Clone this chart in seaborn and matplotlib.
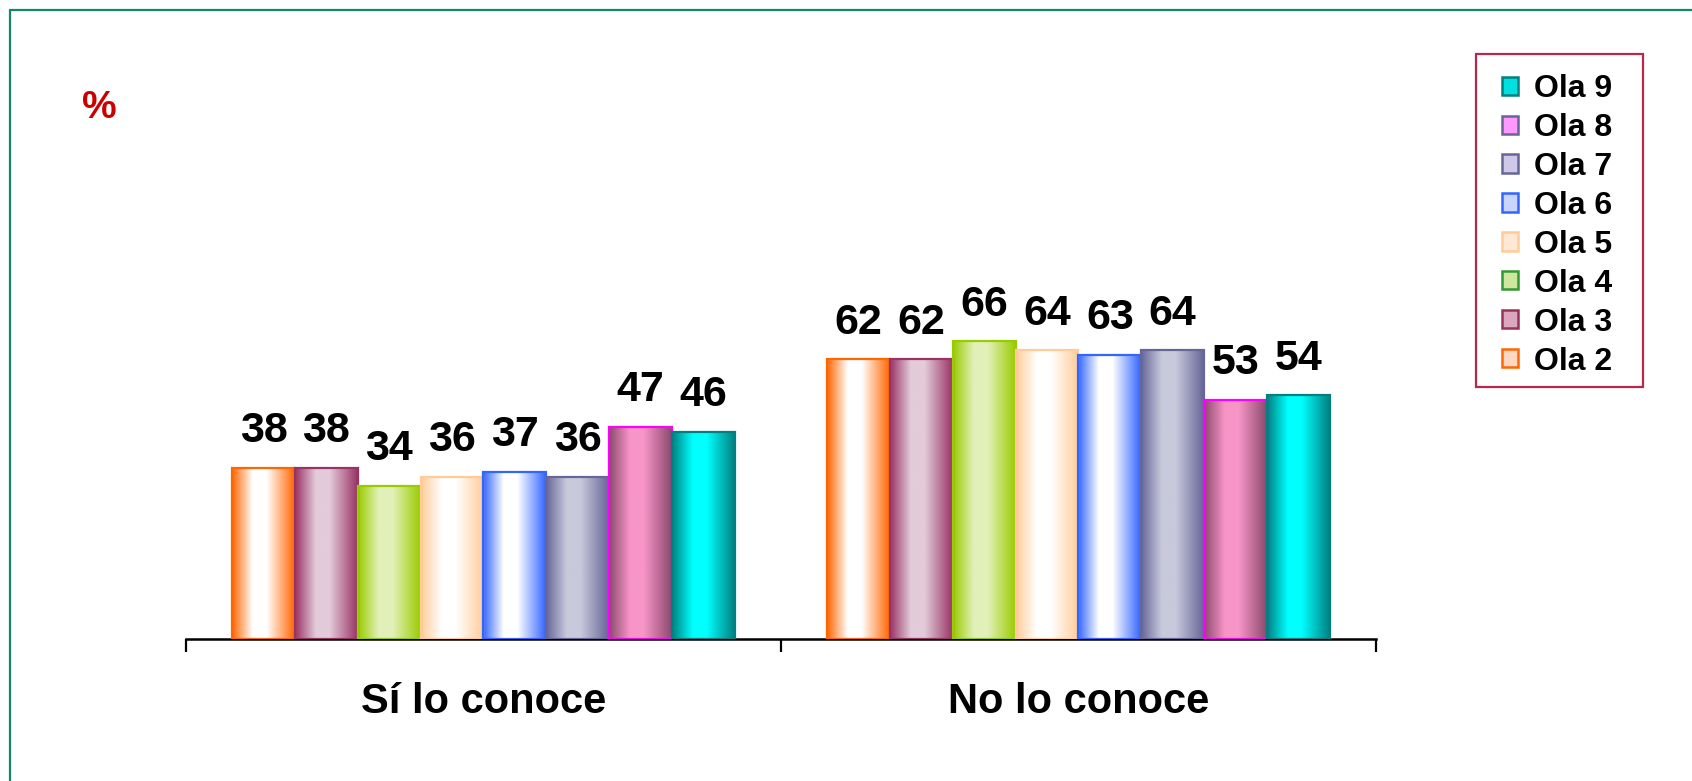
import numpy as np
import pandas as pd
import matplotlib
matplotlib.use("Agg")
import matplotlib.pyplot as plt
import matplotlib.colors as mcolors
from matplotlib.patches import Patch, Rectangle
from matplotlib.lines import Line2D
import seaborn as sns

# Data
categories = ["Sí lo conoce", "No lo conoce"]
olas = ["Ola 2", "Ola 3", "Ola 4", "Ola 5", "Ola 6", "Ola 7", "Ola 8", "Ola 9"]
si_values = [38, 38, 34, 36, 37, 36, 47, 46]
no_values = [62, 62, 66, 64, 63, 64, 53, 54]

# Bar look: side colour, centre colour, outline
bar_side = ["#ff6600", "#993366", "#99cc00", "#ffcc99", "#3366ff", "#666699", "#8a4a6c", "#008080"]
bar_center = ["#ffffff", "#e3cbd9", "#e2f0b9", "#ffffff", "#ffffff", "#c9c9dc", "#f895c8", "#00ffff"]
bar_edge = ["#ff6600", "#993366", "#99cc00", "#ffcc99", "#3366ff", "#666699", "#ff00ff", "#008080"]
leg_face = ["#ffd8c4", "#d9a8c0", "#cfe6a0", "#ffe9d4", "#c8d6ff", "#cfc8e8", "#ff99ff", "#00e0e0"]
leg_edge = ["#ff6600", "#993355", "#339933", "#ffcc99", "#3366ff", "#666699", "#666699", "#008080"]

df = pd.DataFrame({
    "respuesta": [categories[0]] * len(olas) + [categories[1]] * len(olas),
    "ola": olas + olas,
    "pct": si_values + no_values,
})

sns.set_style("white")
plt.rcParams["font.family"] = ["Liberation Sans", "DejaVu Sans"]
plt.rcParams["font.weight"] = "bold"
plt.rcParams["text.color"] = "black"
plt.rcParams["xtick.color"] = "black"

W, H = 1692, 781
fig = plt.figure(figsize=(W / 100, H / 100), dpi=100)
ax = fig.add_axes([0.1099, 0.1818, 0.7033, 0.5775])

sns.barplot(data=df, x="respuesta", y="pct", hue="ola", order=categories,
            hue_order=olas, width=0.845, saturation=1, legend=False, ax=ax)

# cylinder-like horizontal gradient on every bar
xs = np.linspace(0, 1, 200)
weight = np.interp(xs, [0, 0.33, 0.55, 1.0], [1, 0, 0, 1])
for i, cont in enumerate(ax.containers):
    side = np.array(mcolors.to_rgb(bar_side[i]))
    mid = np.array(mcolors.to_rgb(bar_center[i]))
    grad = (weight[:, None] * side + (1 - weight[:, None]) * mid)[None, :, :]
    for p in cont.patches:
        x0, y0 = p.get_x(), p.get_y()
        w, h = p.get_width(), p.get_height()
        im = ax.imshow(grad, extent=[x0, x0 + w, y0, y0 + h], aspect="auto",
                       zorder=2, interpolation="bilinear")
        im.set_clip_path(p)
        p.set_facecolor("none")
        p.set_edgecolor(bar_edge[i])
        p.set_linewidth(1.6)
        p.set_zorder(3)
    ax.bar_label(cont, padding=12, fontsize=31, fontweight="bold", color="black")

ax.set_xlim(-0.5, 1.5)
ax.set_ylim(0, 100)
ax.set_xlabel("")
ax.set_ylabel("")
ax.set_yticks([])
for s in ["top", "left", "right"]:
    ax.spines[s].set_visible(False)
ax.spines["bottom"].set_color("black")
ax.spines["bottom"].set_linewidth(1.8)
ax.tick_params(axis="x", which="major", bottom=False, length=0, pad=31,
               labelsize=30, labelcolor="black")
for lbl in ax.get_xticklabels():
    lbl.set_fontweight("bold")
ax.set_xticks([-0.5, 0.5, 1.5], minor=True)
ax.tick_params(axis="x", which="minor", bottom=True, length=9, width=1.6,
               color="black", direction="out")

# legend (reversed order, Ola 9 on top), frame drawn separately
handles = [Patch(facecolor=leg_face[i], edgecolor=leg_edge[i], linewidth=1.8, label=olas[i])
           for i in range(len(olas))][::-1]
leg = fig.legend(handles=handles, loc="upper left",
                 bbox_to_anchor=(1502 / W, 1 - 74 / H),
                 frameon=False, fontsize=23, handlelength=0.5,
                 handleheight=0.5, handletextpad=0.5, labelspacing=0.28, borderpad=0,
                 borderaxespad=0)
for t in leg.get_texts():
    t.set_fontweight("bold")
    t.set_color("black")
fig.add_artist(Rectangle((1476 / W, 1 - 387 / H), (1643 - 1476) / W, (387 - 54) / H,
                         transform=fig.transFigure, fill=False,
                         edgecolor="#b8284a", linewidth=1.6))

fig.text(99 / W, 1 - 108 / H, "%", color="#cc0000", fontsize=28,
         fontweight="bold", ha="center", va="center")

# green frame lines (top and left)
fig.add_artist(Line2D([10 / W, 1], [1 - 10 / H, 1 - 10 / H],
                      transform=fig.transFigure, color="#13876a", linewidth=1.6))
fig.add_artist(Line2D([10 / W, 10 / W], [0, 1 - 10 / H],
                      transform=fig.transFigure, color="#13876a", linewidth=1.6))

fig.savefig("out.png", dpi=100, facecolor="white")
